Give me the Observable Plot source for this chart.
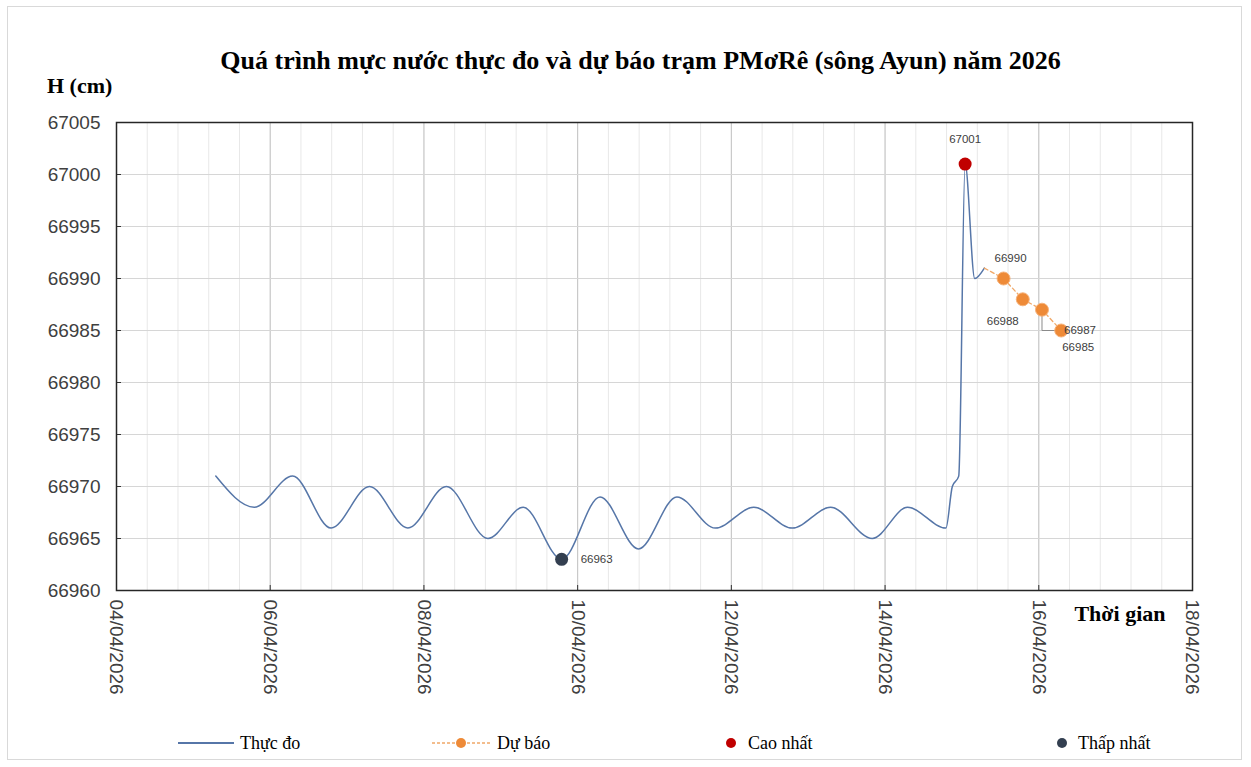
<!DOCTYPE html>
<html><head><meta charset="utf-8">
<script src="https://cdn.jsdelivr.net/npm/d3@7"></script>
<script src="https://cdn.jsdelivr.net/npm/@observablehq/plot@0.6"></script>
<style>
body{margin:0;background:#fff}
#chart{position:relative;width:1251px;height:767px;background:#fff;overflow:hidden}
#outer{position:absolute;left:7px;top:6px;width:1235px;height:754px;border:1px solid #d9d9d9;pointer-events:none;box-sizing:border-box}
#header{position:relative;height:100px}
#title{position:absolute;left:15px;width:1251px;top:46px;text-align:center;font:bold 26px "Liberation Serif",serif;color:#000}
#ylabel{position:absolute;left:47px;top:73px;font:bold 22px "Liberation Serif",serif;color:#000}
#plot{height:612px}
#legend{position:relative;height:55px;font:18px "Liberation Serif",serif;color:#000}
.sw{position:absolute;top:21px}
.lt{position:absolute;top:20px;line-height:22px}
</style>
</head><body>
<div id="chart">
  <div id="outer"></div>
  <div id="header">
    <div id="title">Quá trình mực nước thực đo và dự báo trạm PMơRê (sông Ayun) năm 2026</div>
    <div id="ylabel">H (cm)</div>
  </div>
  <div id="plot"></div>
  <div id="legend"></div>
</div>
<script>
// ---- data ----
const obsTime = [
  "2026-04-05T07:00","2026-04-05T19:00","2026-04-06T07:00","2026-04-06T19:00",
  "2026-04-07T07:00","2026-04-07T19:00","2026-04-08T07:00","2026-04-08T20:00",
  "2026-04-09T07:00","2026-04-09T19:00","2026-04-10T07:00","2026-04-10T19:00",
  "2026-04-11T07:00","2026-04-11T19:00","2026-04-12T07:00","2026-04-12T19:00",
  "2026-04-13T07:00","2026-04-13T20:00","2026-04-14T07:00","2026-04-14T19:00",
  "2026-04-14T21:00","2026-04-14T23:00","2026-04-15T01:00","2026-04-15T04:00",
  "2026-04-15T07:00"
];
const obsLevel = [
  66971,66968,66971,66966,
  66970,66966,66970,66965,
  66968,66963,66969,66964,
  66969,66966,66968,66966,
  66968,66965,66968,66966,
  66970,66971,67001,66990,
  66991
];
const fcTime  = ["2026-04-15T13:00","2026-04-15T19:00","2026-04-16T01:00","2026-04-16T07:00"];
const fcLevel = [66990,66988,66987,66985];
const maxTime = ["2026-04-15T01:00"], maxLevel = [67001];
const minTime = ["2026-04-09T19:00"], minLevel = [66963];
const xTickDates  = ["2026-04-04","2026-04-06","2026-04-08","2026-04-10","2026-04-12","2026-04-14","2026-04-16","2026-04-18"];
const xTickLabels = ["04/04/2026","06/04/2026","08/04/2026","10/04/2026","12/04/2026","14/04/2026","16/04/2026","18/04/2026"];
const yTicks = [66960,66965,66970,66975,66980,66985,66990,66995,67000,67005];
const xMinorStepDays = 0.4;

// ---- build ----
const P = s => new Date(s.length > 10 ? s + ":00Z" : s + "T00:00:00Z");
const obs = obsTime.map((t,i) => ({t:P(t), v:obsLevel[i]}));
const fc  = fcTime.map((t,i) => ({t:P(t), v:fcLevel[i]}));
const fcLine = [obs[obs.length-1], ...fc];
const maxPt = maxTime.map((t,i)=>({t:P(t), v:maxLevel[i]}));
const minPt = minTime.map((t,i)=>({t:P(t), v:minLevel[i]}));
const majors = xTickDates.map(P);
const labelOf = new Map(majors.map((d,i)=>[+d, xTickLabels[i]]));
const t0 = +majors[0], t1 = +majors[majors.length-1];
const minors = d3.range(0, (t1-t0)/864e5 + 1e-6, xMinorStepDays).map(d => new Date(t0 + d*864e5));

const fcLab = [
  {...fc[0], dx:7,  dy:-20, anchor:"middle"},
  {...fc[1], dx:-20, dy:22, anchor:"middle"},
  {...fc[2], dx:22, dy:21, anchor:"start"},
  {...fc[3], dx:1,  dy:17, anchor:"start"}
];

const labelFont = {fontFamily:"Liberation Sans", fontSize:11.5, fill:"#404040"};

const chart = Plot.plot({
  width: 1251, height: 612,
  marginLeft: 116, marginRight: 59, marginTop: 22, marginBottom: 122,
  style: {fontFamily: "'Liberation Sans', Arial, sans-serif", fontSize: "19px", color:"#404040", background:"transparent", overflow:"visible"},
  x: {type:"utc", domain:[majors[0], majors[majors.length-1]], label:null},
  y: {domain:[66960, 67005], label:null},
  marks: [
    Plot.gridX(minors, {stroke:"#e8e8e8", strokeOpacity:1}),
    Plot.gridX(majors, {stroke:"#c4c4c4", strokeOpacity:1}),
    Plot.gridY(yTicks, {stroke:"#d6d6d6", strokeOpacity:1}),
    Plot.axisY(yTicks, {tickSize:-5, tickFormat:()=> "", stroke:"#333"}),
    Plot.axisY(yTicks, {tickSize:0, tickPadding:16, tickFormat:d=>String(d), fill:"#404040", fontFamily:"Liberation Sans", fontSize:19}),
    Plot.axisX(majors, {tickSize:-5, tickFormat:()=> "", stroke:"#333"}),
    Plot.axisX(majors, {tickSize:0, tickPadding:9, tickRotate:90, tickFormat:d=>labelOf.get(+d), fill:"#404040", fontFamily:"Liberation Sans", fontSize:19}),
    Plot.frame({stroke:"#262626", strokeWidth:1.5}),
    Plot.line(obs, {x:"t", y:"v", stroke:"#5676A8", strokeWidth:1.5, curve:"monotone-x"}),
    Plot.line(fcLine, {x:"t", y:"v", stroke:"#F0A868", strokeWidth:1.3, strokeDasharray:"4,3"}),
    Plot.line(fc.slice(2), {x:"t", y:"v", stroke:"#8a8a8a", strokeWidth:1, curve:"step-before"}),
    Plot.dot(fc, {x:"t", y:"v", r:6.5, fill:"#EE8A37", stroke:"#F6B27A", strokeWidth:1}),
    Plot.dot(maxPt, {x:"t", y:"v", r:6.5, fill:"#C00000"}),
    Plot.dot(minPt, {x:"t", y:"v", r:6.5, fill:"#333F50"}),
    Plot.text(maxPt, {x:"t", y:"v", text:d=>String(d.v), dy:-25, ...labelFont}),
    Plot.text(minPt, {x:"t", y:"v", text:d=>String(d.v), dx:19, textAnchor:"start", ...labelFont}),
    ...fcLab.map(d => Plot.text([d], {x:"t", y:"v", text:e=>String(e.v), dx:d.dx, dy:d.dy, textAnchor:d.anchor, ...labelFont})),
    Plot.text(["Thời gian"], {frameAnchor:"bottom-right", dx:-27, dy:30, textAnchor:"end", fontFamily:"Liberation Serif", fontWeight:"bold", fontSize:22, fill:"#000"})
  ]
});
document.getElementById("plot").appendChild(chart);

// ---- legend ----
const legendItems = [
  {label:"Thực đo", kind:"line", sx:178, tx:240},
  {label:"Dự báo", kind:"dash", sx:432, tx:497},
  {label:"Cao nhất", kind:"dot", color:"#C00000", sx:725, tx:748},
  {label:"Thấp nhất", kind:"dot", color:"#333F50", sx:1056, tx:1078}
];
const lg = document.getElementById("legend");
for (const it of legendItems) {
  let svg;
  if (it.kind === "line") svg = `<svg width="56" height="20"><line x1="0" x2="56" y1="10" y2="10" stroke="#5676A8" stroke-width="1.8"/></svg>`;
  else if (it.kind === "dash") svg = `<svg width="58" height="20"><line x1="0" x2="58" y1="10" y2="10" stroke="#F0A868" stroke-width="1.3" stroke-dasharray="3,2"/><circle cx="29" cy="10" r="5" fill="#EE8A37"/></svg>`;
  else svg = `<svg width="14" height="20"><circle cx="6" cy="10" r="5" fill="${it.color}"/></svg>`;
  lg.insertAdjacentHTML("beforeend", `<div class="sw" style="left:${it.sx}px">${svg}</div><div class="lt" style="left:${it.tx}px">${it.label}</div>`);
}
</script>
</body></html>
